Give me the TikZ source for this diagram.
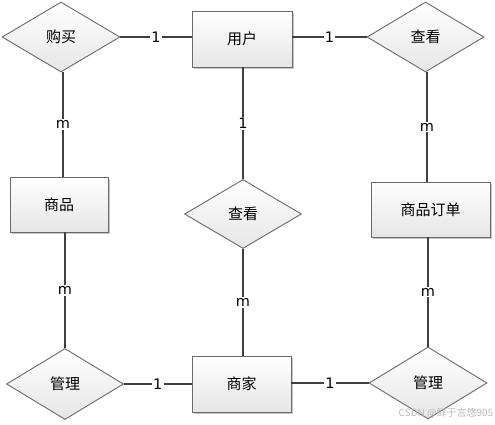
\documentclass[tikz,border=0pt]{standalone}
\usepackage{fontspec}
\newfontfamily\cjk{Noto Sans CJK SC}
\newfontfamily\lblfont{DejaVu Sans}
\usetikzlibrary{shapes.geometric,shadows}
\definecolor{edgegray}{HTML}{6A6A6A}
\definecolor{linegray}{HTML}{404040}
\definecolor{fillbot}{HTML}{E6E6E6}
\tikzset{
  entity/.style={rectangle, draw=edgegray, line width=0.9pt, top color=white, bottom color=fillbot,
    inner sep=0pt, font=\cjk\fontsize{15}{15}\selectfont,
    drop shadow={shadow xshift=2pt, shadow yshift=-2pt, fill=gray!55, opacity=0.8}},
  relation/.style={diamond, draw=edgegray, line width=0.9pt, top color=white, bottom color=fillbot,
    inner sep=0pt, font=\cjk\fontsize{15}{15}\selectfont},
  conn/.style={draw=linegray, line width=1.6pt},
  lbl/.style={fill=white, inner sep=1.2pt, font=\lblfont\fontsize{14.5}{14.5}\selectfont, text=black}
}
\begin{document}
\begin{tikzpicture}[x=1pt,y=-1pt]
\useasboundingbox (0,0) rectangle (495,425);
% entities
\node[entity, minimum width=100pt, minimum height=56pt] (user) at (242,39) {用户};
\node[entity, minimum width=98pt, minimum height=55pt] (goods) at (59,204.5) {商品};
\node[entity, minimum width=119pt, minimum height=55pt] (order) at (430.5,209.5) {商品订单};
\node[entity, minimum width=99pt, minimum height=56pt] (merchant) at (241.5,384) {商家};
% relations
\node[relation, minimum width=118pt, minimum height=70pt] (buy) at (61,37) {购买};
\node[relation, minimum width=117pt, minimum height=70pt] (view1) at (425.5,37) {查看};
\node[relation, minimum width=117pt, minimum height=69pt] (view2) at (243,214) {查看};
\node[relation, minimum width=117pt, minimum height=71pt] (manage1) at (65,384) {管理};
\node[relation, minimum width=118pt, minimum height=72pt] (manage2) at (428,383) {管理};
% connectors
\draw[conn] (buy.east) -- (user.west |- buy.east) node[lbl, midway] {1};
\draw[conn] (user.east |- view1.west) -- (view1.west) node[lbl, midway] {1};
\draw[conn] ([xshift=2pt]buy.south) -- ([xshift=2pt]buy.south |- goods.north) node[lbl, midway] {m};
\draw[conn] ([xshift=1pt]user.south) -- ([xshift=1pt]user.south |- view2.north) node[lbl, midway] {1};
\draw[conn] ([xshift=1.5pt]view1.south) -- ([xshift=1.5pt]view1.south |- order.north) node[lbl, midway] {m};
\draw[conn] (manage1.north |- goods.south) -- (manage1.north) node[lbl, midway] {m};
\draw[conn] (view2.south) -- (view2.south |- merchant.north) node[lbl, midway] {m};
\draw[conn] (manage2.north |- order.south) -- (manage2.north) node[lbl, midway] {m};
\draw[conn] (manage1.east) -- (merchant.west |- manage1.east) node[lbl, midway] {1};
\draw[conn] (merchant.east |- manage2.west) -- (manage2.west) node[lbl, midway] {1};
% watermark
\node[text=gray!55, font=\cjk\fontsize{10}{10}\selectfont, inner sep=0pt] (wm) at (446,413) {CSDN @鲜于言悠905};
\end{tikzpicture}
\end{document}
